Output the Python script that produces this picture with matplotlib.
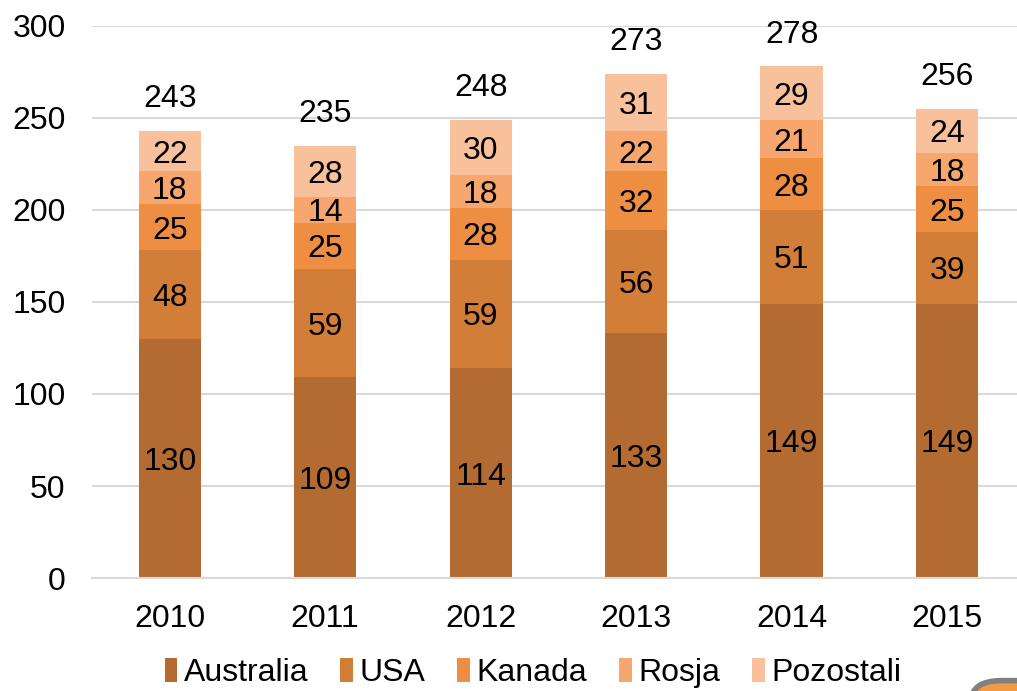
import matplotlib.pyplot as plt
from matplotlib.patches import FancyBboxPatch
import numpy as np

plt.rcParams['font.family'] = ['Liberation Sans', 'DejaVu Sans']

years = ['2010', '2011', '2012', '2013', '2014', '2015']
series_names = ['Australia', 'USA', 'Kanada', 'Rosja', 'Pozostali']
australia = [130, 109, 114, 133, 149, 149]
usa = [48, 59, 59, 56, 51, 39]
kanada = [25, 25, 28, 32, 28, 25]
rosja = [18, 14, 18, 22, 21, 18]
pozostali = [22, 28, 30, 31, 29, 24]
totals = [243, 235, 248, 273, 278, 256]

colors = ['#B46B32', '#D37E38', '#EE8E43', '#F7A66D', '#F9C09C']

fig = plt.figure(figsize=(10.17, 6.91), dpi=100)
ax = fig.add_axes([0.0905, 0.1635, 0.9095, 0.799])

fs = 23
x = np.arange(len(years))
bottom = np.zeros(len(years))
for name, vals, col in zip(series_names, [australia, usa, kanada, rosja, pozostali], colors):
    vals = np.array(vals)
    ax.bar(x, vals, width=0.4, bottom=bottom, color=col, label=name, zorder=2)
    for xi, b, v in zip(x, bottom, vals):
        ax.text(xi, b + v / 2, str(v), ha='center', va='center_baseline', fontsize=fs,
                color='black', zorder=3)
    bottom += vals

for xi, top, t in zip(x, bottom, totals):
    ax.text(xi, top + 19, str(t), ha='center', va='center_baseline', fontsize=fs, color='black')

ax.set_xlim(-0.5, 5.45)
ax.set_ylim(0, 300)
ax.set_yticks(range(0, 301, 50))
ax.set_xticks(x)
ax.set_xticklabels(years)
ax.tick_params(axis='both', length=0, labelsize=fs)
ax.tick_params(axis='y', pad=19)
ax.tick_params(axis='x', pad=19)
ax.yaxis.grid(True, color='#D9D9D9', linewidth=1.5, zorder=0)
ax.set_axisbelow(True)
for s in ['top', 'right', 'left']:
    ax.spines[s].set_visible(False)
ax.spines['bottom'].set_color('#D9D9D9')
ax.spines['bottom'].set_linewidth(1.5)

fig.legend(loc='center', bbox_to_anchor=(0.524, 0.026), ncol=5, frameon=False,
           fontsize=fs, handlelength=0.4, handleheight=0.75, handletextpad=0.2,
           columnspacing=1.0)

# decorative rounded box clipped at bottom right
box = FancyBboxPatch((0.955, -0.05), 0.1, 0.065, boxstyle='round,pad=0.0,rounding_size=0.03',
                     transform=fig.transFigure, facecolor='#F39A45', edgecolor='#808080',
                     linewidth=4, clip_on=False)
fig.patches.append(box)

fig.savefig('out.png', dpi=100)
